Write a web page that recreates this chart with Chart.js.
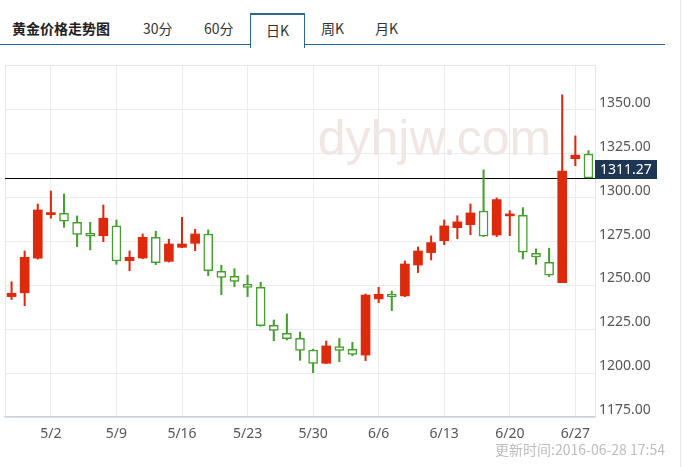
<!DOCTYPE html>
<html><head><meta charset="utf-8">
<script src="https://cdn.jsdelivr.net/npm/chart.js@4/dist/chart.umd.min.js"></script>
<style>
html,body{margin:0;padding:0;background:#fff;width:682px;height:467px;overflow:hidden;font-family:"Noto Sans CJK SC","Noto Sans",sans-serif;}
.line{position:absolute;left:0;top:44px;width:665px;height:0;border-top:1.5px solid #2a6593;}
.t{position:absolute;top:19px;font-size:14px;line-height:18px;color:#333;white-space:nowrap;}
.b{font-weight:bold;color:#222;}
.sel{position:absolute;left:250px;top:13px;width:53px;height:33px;border:1px solid #2a6593;border-top:2px solid #2a6593;border-bottom:none;background:#fff;}
#wrap{position:absolute;left:0;top:50px;width:682px;height:417px;}
.upd{position:absolute;right:17px;top:441px;font-size:14px;line-height:17px;color:#bdbdbd;white-space:nowrap;}
.edge{position:absolute;left:680px;top:0;width:1px;height:467px;background:#e8e8e8;}
</style></head>
<body>
<div class="line"></div>
<div class="sel"></div>
<div class="t b" style="left:12px">黄金价格走势图</div>
<div class="t" style="left:143px">30分</div>
<div class="t" style="left:204px">60分</div>
<div class="t" style="left:266px;top:21px">日K</div>
<div class="t" style="left:321px">周K</div>
<div class="t" style="left:375px">月K</div>
<div class="edge"></div>
<div id="wrap"><canvas id="c"></canvas></div>
<div class="upd">更新时间:2016-06-28 17:54</div>
<script>
const dates = ['4/27','4/28','4/29','5/2','5/3','5/4','5/5','5/6','5/9','5/10','5/11','5/12','5/13','5/16','5/17','5/18','5/19','5/20','5/23','5/24','5/25','5/26','5/27','5/30','5/31','6/1','6/2','6/3','6/6','6/7','6/8','6/9','6/10','6/13','6/14','6/15','6/16','6/17','6/20','6/21','6/22','6/23','6/24','6/27','6/28'];
const tickDates = ['5/2','5/9','5/16','5/23','5/30','6/6','6/13','6/20','6/27'];
const opens = [1243.6,1245.8,1265.5,1290.3,1291.1,1286.0,1279.7,1278.3,1284.0,1264.1,1265.6,1277.4,1263.7,1271.7,1274.0,1279.3,1258.0,1255.2,1250.6,1248.9,1227.3,1222.7,1219.8,1213.2,1205.6,1215.1,1213.6,1210.3,1242.3,1244.9,1244.0,1261.6,1268.7,1275.5,1282.9,1284.6,1292.3,1278.7,1289.6,1290.0,1268.3,1263.2,1251.6,1322.2,1324.9];
const highs = [1252.1,1269.6,1296.4,1303.8,1302.1,1289.6,1286.0,1295.8,1287.3,1269.6,1279.3,1280.9,1276.3,1288.8,1282.0,1281.6,1261.5,1259.5,1255.8,1251.8,1230.3,1233.7,1223.4,1213.7,1218.3,1219.8,1217.6,1245.1,1248.9,1246.8,1263.9,1271.9,1278.2,1287.3,1289.7,1296.4,1315.8,1299.8,1292.6,1294.3,1270.8,1271.2,1358.6,1335.2,1326.8];
const lows = [1242.0,1238.4,1265.0,1288.3,1283.1,1272.1,1270.2,1274.9,1262.0,1258.4,1265.2,1261.8,1263.3,1271.5,1269.8,1255.5,1244.7,1249.3,1243.6,1226.7,1218.5,1218.9,1207.3,1200.2,1205.5,1206.5,1209.9,1207.1,1240.1,1235.6,1243.6,1257.3,1264.5,1273.2,1276.6,1278.9,1277.8,1277.8,1278.3,1265.1,1262.0,1255.0,1251.5,1318.2,1311.27];
const closes = [1245.5,1266.0,1293.0,1291.5,1286.6,1279.1,1278.0,1288.3,1263.9,1266.0,1277.4,1263.0,1273.6,1273.6,1279.3,1258.4,1254.6,1252.3,1248.9,1227.0,1224.4,1219.6,1213.0,1205.6,1215.5,1213.0,1210.7,1244.5,1244.9,1243.6,1262.2,1269.6,1274.4,1283.9,1286.2,1291.3,1278.0,1298.9,1290.1,1268.9,1266.2,1255.8,1315.2,1324.2,1311.27];
const yTicks = [1175,1200,1225,1250,1275,1300,1325,1350];
const yMin = 1175, yMax = 1375.6;
const lastPrice = 1311.27;
const watermark = 'dyhjw.com';

const RED = '#dd2a0c', GREEN = '#44a02d';
const up = i => closes[i] >= opens[i];
const bodies = dates.map((d, i) => [opens[i], closes[i]]);
const wicks = dates.map((d, i) => [lows[i], highs[i]]);

Chart.defaults.font.family = '"Noto Sans", "DejaVu Sans", sans-serif';

const deco = {
  id: 'deco',
  beforeDatasetsDraw(chart) {
    const { ctx, chartArea: a, scales: { y } } = chart;
    ctx.save();
    ctx.strokeStyle = '#e6e6e6'; ctx.lineWidth = 1;
    ctx.beginPath();
    ctx.moveTo(a.left + 0.5, a.bottom); ctx.lineTo(a.left + 0.5, a.top + 0.5); ctx.lineTo(a.right, a.top + 0.5);
    ctx.stroke();
    ctx.fillStyle = '#f0e7e4';
    ctx.font = '50px "Liberation Sans", Arial, sans-serif';
    ctx.textBaseline = 'alphabetic'; ctx.textAlign = 'left';
    ctx.fillText(watermark, a.left + (a.right - a.left) * 0.53, a.top + 90);
    const py = Math.round(y.getPixelForValue(lastPrice)) + 0.5;
    ctx.strokeStyle = '#000'; ctx.lineWidth = 1;
    ctx.beginPath(); ctx.moveTo(a.left, py); ctx.lineTo(a.right, py); ctx.stroke();
    ctx.restore();
  },
  afterDraw(chart) {
    const { ctx, chartArea: a, scales: { y } } = chart;
    const py = Math.round(y.getPixelForValue(lastPrice));
    ctx.save();
    ctx.font = '14px "Noto Sans", "DejaVu Sans", sans-serif';
    const label = lastPrice.toFixed(2);
    const w = ctx.measureText(label).width;
    ctx.fillStyle = '#1d3654';
    ctx.fillRect(a.right, py - 18, Math.ceil(w) + 10, 19);
    ctx.fillStyle = '#fff';
    ctx.textBaseline = 'middle'; ctx.textAlign = 'left';
    ctx.fillText(label, a.right + 5, py - 8);
    ctx.restore();
  }
};

new Chart(document.getElementById('c'), {
  type: 'bar',
  data: {
    labels: dates,
    datasets: [
      { label: 'body', data: bodies, grouped: false, order: 0, barThickness: 9, minBarLength: 2, borderSkipped: false,
        backgroundColor: c => up(c.dataIndex) ? RED : '#ffffff',
        borderColor: c => up(c.dataIndex) ? RED : GREEN,
        borderWidth: c => up(c.dataIndex) ? 0 : 1.5 },
      { label: 'wick', data: wicks, grouped: false, order: 1, barThickness: 1.4, borderWidth: 0, borderSkipped: false,
        backgroundColor: c => up(c.dataIndex) ? RED : GREEN }
    ]
  },
  options: {
    responsive: true, maintainAspectRatio: false, animation: false,
    layout: { padding: { left: 5, right: 0, top: 15, bottom: 0 } },
    plugins: { legend: { display: false }, tooltip: { enabled: false } },
    scales: {
      x: {
        offset: true,
        grid: { offset: false, color: '#ececec', drawTicks: false },
        border: { color: '#c6d1db', width: 1.5 },
        ticks: { autoSkip: false, maxRotation: 0, padding: 9, color: '#555', font: { size: 14 } },
        afterBuildTicks: s => { s.ticks = s.ticks.filter(t => tickDates.includes(dates[t.value])); },
        afterFit: s => { s.height = 50; }
      },
      y: {
        position: 'right', min: yMin, max: yMax,
        grid: { color: '#ececec', drawTicks: false },
        border: { color: '#e3e3e3' },
        ticks: { padding: 4, color: '#555', font: { size: 14 }, labelOffset: -7, callback: v => Number(v).toFixed(2) },
        afterBuildTicks: s => { s.ticks = yTicks.map(v => ({ value: v })); },
        afterFit: s => { s.width = 87; }
      }
    }
  },
  plugins: [deco]
});
</script>
</body></html>
